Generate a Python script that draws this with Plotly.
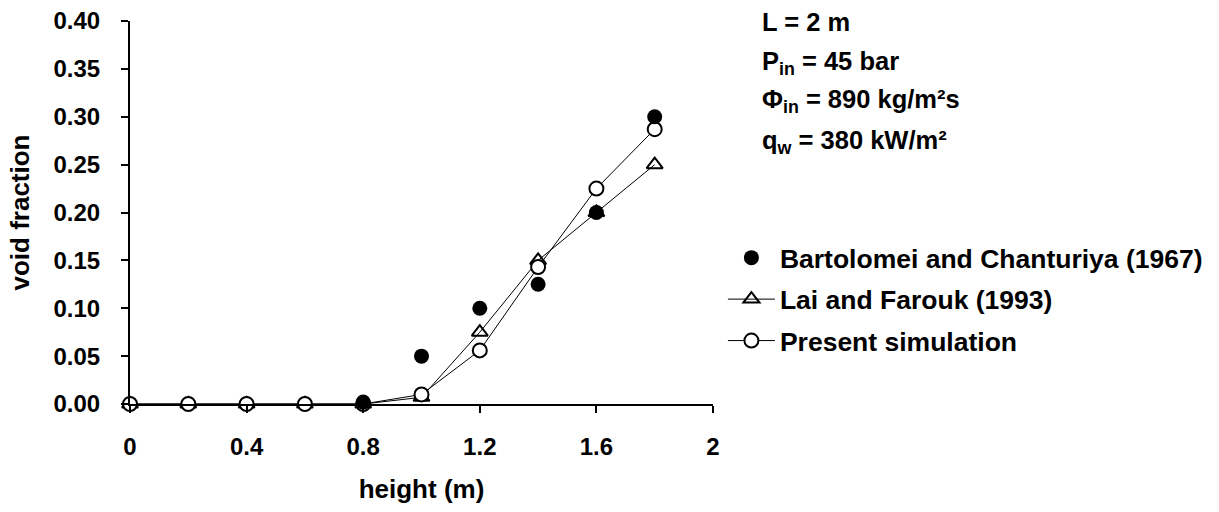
import plotly.graph_objects as go

# Axial void fraction along the heated channel
height_exp = [0.8, 1.0, 1.2, 1.4, 1.6, 1.8]
void_bartolomei = [0.002, 0.05, 0.10, 0.125, 0.20, 0.30]

height_model = [0.0, 0.2, 0.4, 0.6, 0.8, 1.0, 1.2, 1.4, 1.6, 1.8]
void_lai = [0.0, 0.0, 0.0, 0.0, 0.0, 0.007, 0.075, 0.15, 0.20, 0.25]
void_present = [0.0, 0.0, 0.0, 0.0, 0.0, 0.01, 0.056, 0.143, 0.225, 0.287]

x_ticks = [0, 0.4, 0.8, 1.2, 1.6, 2]
x_tick_text = ["0", "0.4", "0.8", "1.2", "1.6", "2"]
y_ticks = [0.0, 0.05, 0.10, 0.15, 0.20, 0.25, 0.30, 0.35, 0.40]
y_tick_text = ["0.00", "0.05", "0.10", "0.15", "0.20", "0.25", "0.30", "0.35", "0.40"]

conditions = [
    "L = 2 m",
    "P<sub>in</sub> = 45 bar",
    "Φ<sub>in</sub> = 890 kg/m²s",
    "q<sub>w</sub> = 380 kW/m²",
]
condition_y = [0.997, 0.891, 0.791, 0.685]

FONT = "Liberation Sans, Arial, sans-serif"
TICK_FS = 24
TITLE_FS = 26
LEGEND_FS = 26.5
NOTE_FS = 25.5


def bold(size):
    return dict(family=FONT, size=size, color="black", weight="bold")


fig = go.Figure()

fig.add_trace(go.Scatter(
    x=height_model, y=void_lai, name="Lai and Farouk (1993)",
    mode="lines+markers", legendgroup="lai", legendrank=2,
    line=dict(color="black", width=1),
    marker=dict(symbol="triangle-up-open", size=14, color="black",
                line=dict(width=2, color="black")),
    cliponaxis=False,
))

fig.add_trace(go.Scatter(
    x=height_model, y=void_present, name="Present simulation",
    mode="lines+markers", legendgroup="sim", legendrank=3,
    line=dict(color="black", width=1),
    marker=dict(symbol="circle", size=14, color="white",
                line=dict(width=2, color="black")),
    cliponaxis=False,
))

fig.add_trace(go.Scatter(
    x=height_exp, y=void_bartolomei, name="Bartolomei and Chanturiya (1967)",
    mode="markers", legendgroup="bart", legendrank=1,
    marker=dict(symbol="circle", size=15, color="black", line=dict(width=0)),
    cliponaxis=False,
))

for txt, yy in zip(conditions, condition_y):
    fig.add_annotation(
        x=1.08, y=yy, xref="paper", yref="paper",
        xanchor="left", yanchor="middle", text=txt, showarrow=False,
        font=bold(NOTE_FS),
    )

fig.update_layout(
    width=1219, height=512,
    margin=dict(l=130, r=506, t=21, b=108, autoexpand=False),
    paper_bgcolor="white", plot_bgcolor="white",
    font=bold(TICK_FS),
    showlegend=True,
    legend=dict(
        x=1.017, y=0.444, xanchor="left", yanchor="top",
        traceorder="grouped", tracegroupgap=4, itemsizing="trace",
        itemwidth=47,
        font=bold(LEGEND_FS),
        bgcolor="rgba(0,0,0,0)",
    ),
    xaxis=dict(
        range=[0, 2], tickvals=x_ticks, ticktext=x_tick_text,
        showgrid=False, zeroline=False, showline=True,
        linecolor="black", linewidth=2, ticks="outside", ticklen=7,
        tickwidth=2, tickcolor="black", ticklabelstandoff=13,
        tickfont=bold(TICK_FS),
        title=dict(text="height (m)", standoff=21, font=bold(TITLE_FS)),
    ),
    yaxis=dict(
        range=[0, 0.4], tickvals=y_ticks, ticktext=y_tick_text,
        showgrid=False, zeroline=False, showline=True,
        linecolor="black", linewidth=2, ticks="outside", ticklen=7,
        tickwidth=2, tickcolor="black", ticklabelstandoff=16,
        tickfont=bold(TICK_FS),
        title=dict(text="void fraction", standoff=16, font=bold(TITLE_FS)),
    ),
)

fig.write_html("out.html")
